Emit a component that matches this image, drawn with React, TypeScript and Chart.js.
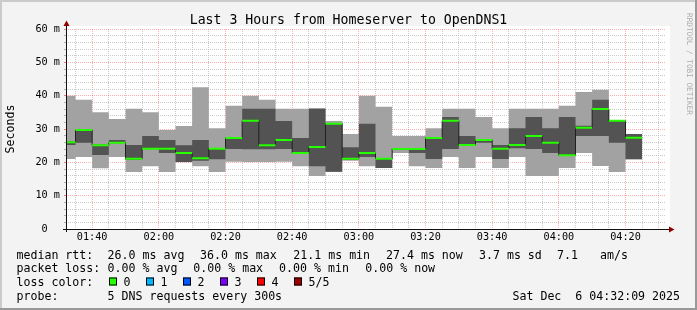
import React, { useEffect, useRef } from 'react';
import { Chart, registerables } from 'chart.js';

Chart.register(...registerables);

const TITLE = 'Last 3 Hours from Homeserver to OpenDNS1';
const Y_AXIS_TITLE = 'Seconds';
const WATERMARK = 'RRDTOOL / TOBI OETIKER';

const X_START = '01:32:09';
const X_END = '04:32:09';
const STEP_MINUTES = 5;

const BAR_END_TIMES = [
  '01:35', '01:40', '01:45', '01:50', '01:55', '02:00', '02:05', '02:10', '02:15', '02:20',
  '02:25', '02:30', '02:35', '02:40', '02:45', '02:50', '02:55', '03:00', '03:05', '03:10',
  '03:15', '03:20', '03:25', '03:30', '03:35', '03:40', '03:45', '03:50', '03:55', '04:00',
  '04:05', '04:10', '04:15', '04:20', '04:25',
];

// smoke: five pings sorted (ms)
const PING_MIN = [
  21.0, 21.6, 18.2, 21.6, 17.1, 18.8, 17.1, 20.0, 18.8, 17.1,
  20.2, 20.1, 20.1, 20.2, 18.8, 15.9, 17.1, 20.5, 18.8, 18.3,
  22.8, 18.8, 18.3, 21.6, 18.3, 21.6, 18.3, 21.6, 15.9, 15.9,
  18.3, 22.8, 18.9, 17.1, 20.9,
];
const PING_LOW = [
  25.2, 25.9, 22.2, 25.8, 20.8, 24.0, 22.8, 20.1, 20.5, 20.9,
  24.0, 23.9, 23.9, 24.0, 22.7, 18.8, 17.2, 20.8, 21.6, 18.3,
  23.8, 22.8, 21.0, 24.0, 25.1, 25.9, 21.0, 24.2, 24.0, 22.8,
  22.1, 27.9, 27.9, 25.9, 20.9,
];
const MEDIAN = [
  26.0, 29.7, 25.1, 25.9, 21.1, 24.1, 24.1, 22.8, 21.2, 24.1,
  27.3, 32.5, 25.1, 26.7, 22.8, 24.6, 31.6, 21.1, 22.8, 21.1,
  24.0, 24.0, 27.3, 32.5, 25.2, 26.7, 24.1, 25.2, 27.9, 25.9,
  22.1, 30.4, 36.0, 32.5, 27.4,
];
const PING_HIGH = [
  26.3, 29.8, 25.3, 26.7, 25.2, 27.9, 26.7, 25.1, 26.7, 24.2,
  27.4, 36.1, 36.1, 32.4, 27.3, 36.1, 31.7, 24.5, 31.6, 21.2,
  24.2, 24.1, 27.4, 33.6, 27.9, 26.8, 25.2, 30.2, 33.6, 30.2,
  33.6, 31.0, 38.8, 32.5, 28.5,
];
const PING_MAX = [
  40.0, 38.8, 35.0, 33.0, 36.1, 35.0, 29.7, 30.9, 42.5, 30.2,
  37.0, 40.0, 38.8, 36.1, 36.1, 36.2, 32.4, 28.5, 40.0, 36.7,
  27.9, 27.9, 30.2, 36.1, 36.1, 33.6, 30.2, 36.1, 36.1, 36.1,
  37.0, 41.1, 41.8, 32.5, 28.5,
];

const X_TICK_LABELS = ['01:40', '02:00', '02:20', '02:40', '03:00', '03:20', '03:40', '04:00', '04:20'];
const Y_MIN = 0;
const Y_MAX = 60;
const Y_MINOR_STEP = 2;
const Y_MAJOR_STEP = 10;
const Y_UNIT = ' m';

const MEDIAN_LABEL = 'median rtt:';
const MEDIAN_STATS = ['26.0 ms avg', '36.0 ms max', '21.1 ms min', '27.4 ms now', '3.7 ms sd', '7.1', 'am/s'];
const LOSS_LABEL = 'packet loss:';
const LOSS_STATS = ['0.00 % avg', '0.00 % max', '0.00 % min', '0.00 % now'];
const LOSS_COLOR_LABEL = 'loss color:';
const LOSS_LEVELS = ['0', '1', '2', '3', '4', '5/5'];
const LOSS_COLORS = ['#26ff00', '#00b8ff', '#0059ff', '#7e00ff', '#ff0000', '#a00000'];
const PROBE_LABEL = 'probe:';
const PROBE_TEXT = '5 DNS requests every 300s';
const DATE_TEXT = 'Sat Dec  6 04:32:09 2025';

const MONO = '"DejaVu Sans Mono", "Liberation Mono", monospace';
const LIGHT = '#a2a2a2';
const DARK = '#535353';
const GRID_MINOR = 'rgba(185,185,185,0.75)';
const GRID_MAJOR = 'rgba(255,40,40,0.38)';

function toMinutes(t: string): number {
  const p = t.split(':').map(Number);
  return p[0] * 60 + p[1] + (p[2] || 0) / 60;
}
function fmt(v: number): string {
  const h = Math.floor(v / 60);
  const m = Math.round(v - h * 60);
  return String(h).padStart(2, '0') + ':' + String(m).padStart(2, '0');
}

const ends = BAR_END_TIMES.map(toMinutes);
const starts = ends.map((e) => e - STEP_MINUTES);

function stepPoints(vals: number[]) {
  return [{ x: starts[0], y: vals[0] }, ...ends.map((x, i) => ({ x, y: vals[i] }))];
}
function bandPoints(vals: number[]) {
  const pts: { x: number; y: number | null }[] = [];
  vals.forEach((v, i) => {
    pts.push({ x: starts[i], y: v }, { x: ends[i], y: v }, { x: ends[i], y: null });
  });
  return pts;
}

const decor = {
  id: 'decor',
  beforeDraw(chart: any) {
    const { ctx, chartArea: a, width, height } = chart;
    ctx.save();
    ctx.fillStyle = '#f3f3f3';
    ctx.fillRect(0, 0, width, height);
    ctx.fillStyle = '#cbcbcb';
    ctx.fillRect(0, 0, width, 2);
    ctx.fillRect(0, 0, 2, height);
    ctx.fillStyle = '#999999';
    ctx.fillRect(0, height - 2, width, 2);
    ctx.fillRect(width - 2, 0, 2, height);
    ctx.fillStyle = '#ffffff';
    ctx.fillRect(a.left, a.top - 3, a.right - a.left + 4, a.bottom - a.top + 3);
    ctx.restore();
  },
  afterDraw(chart: any) {
    const { ctx, chartArea: a, width } = chart;
    ctx.save();
    // axes
    ctx.strokeStyle = '#111111';
    ctx.lineWidth = 1;
    const ay = Math.round(a.bottom) + 0.5;
    const ax = Math.round(a.left) + 0.5;
    ctx.beginPath();
    ctx.moveTo(a.left - 3, ay);
    ctx.lineTo(a.right + 4, ay);
    ctx.moveTo(ax, a.bottom + 3);
    ctx.lineTo(ax, a.top - 3);
    ctx.stroke();
    ctx.fillStyle = '#900000';
    ctx.beginPath();
    ctx.moveTo(a.right + 3, ay - 3);
    ctx.lineTo(a.right + 8.5, ay);
    ctx.lineTo(a.right + 3, ay + 3);
    ctx.closePath();
    ctx.fill();
    ctx.beginPath();
    ctx.moveTo(ax - 3, a.top - 3);
    ctx.lineTo(ax, a.top - 8.5);
    ctx.lineTo(ax + 3, a.top - 3);
    ctx.closePath();
    ctx.fill();

    // title
    ctx.fillStyle = '#000000';
    ctx.font = '13.2px ' + MONO;
    ctx.textAlign = 'center';
    ctx.textBaseline = 'alphabetic';
    ctx.fillText(TITLE, width / 2, 24);

    // y axis title
    ctx.save();
    ctx.translate(10.5, (a.top + a.bottom) / 2);
    ctx.rotate(-Math.PI / 2);
    ctx.font = '11.6px ' + MONO;
    ctx.textAlign = 'center';
    ctx.textBaseline = 'middle';
    ctx.fillText(Y_AXIS_TITLE, 0, 0);
    ctx.restore();

    // watermark
    ctx.save();
    ctx.translate(689, 13);
    ctx.rotate(Math.PI / 2);
    ctx.font = '7.7px ' + MONO;
    ctx.fillStyle = '#ababab';
    ctx.textAlign = 'left';
    ctx.textBaseline = 'middle';
    ctx.fillText(WATERMARK, 0, 0);
    ctx.restore();

    // legend
    ctx.font = '11.6px ' + MONO;
    ctx.textAlign = 'left';
    ctx.textBaseline = 'alphabetic';
    ctx.fillStyle = '#000000';
    const rows = [258.5, 272, 285.5, 299.5];
    ctx.fillText(MEDIAN_LABEL, 16.5, rows[0]);
    const mx = [107.6, 200, 293.3, 386, 479, 557, 600];
    MEDIAN_STATS.forEach((s, i) => ctx.fillText(s, mx[i], rows[0]));
    ctx.fillText(LOSS_LABEL, 16.5, rows[1]);
    const lx = [107.6, 193.3, 279.1, 365.3];
    LOSS_STATS.forEach((s, i) => ctx.fillText(s, lx[i], rows[1]));
    ctx.fillText(LOSS_COLOR_LABEL, 16.5, rows[2]);
    const bx = [109, 146, 183, 220, 257, 294];
    LOSS_LEVELS.forEach((s, i) => {
      ctx.fillStyle = LOSS_COLORS[i];
      ctx.fillRect(bx[i], rows[2] - 8, 8, 8);
      ctx.strokeStyle = '#000000';
      ctx.strokeRect(bx[i] + 0.5, rows[2] - 7.5, 7, 7);
      ctx.fillStyle = '#000000';
      ctx.fillText(s, bx[i] + 14.5, rows[2]);
    });
    ctx.fillText(PROBE_LABEL, 16.5, rows[3]);
    ctx.fillText(PROBE_TEXT, 107.6, rows[3]);
    ctx.textAlign = 'right';
    ctx.fillText(DATE_TEXT, 680, rows[3]);
    ctx.restore();
  },
};

export default function App() {
  const ref = useRef<HTMLCanvasElement>(null);
  useEffect(() => {
    if (!ref.current) return;
    const xMinor: number[] = [];
    for (let v = Math.ceil(toMinutes(X_START) / STEP_MINUTES) * STEP_MINUTES; v <= toMinutes(X_END); v += STEP_MINUTES) xMinor.push(v);

    const isMajorX = (v: number) => X_TICK_LABELS.includes(fmt(v));
    const isMajorY = (v: number) => v % Y_MAJOR_STEP === 0;

    const chart = new Chart(ref.current, {
      type: 'line',
      data: {
        datasets: [
          {
            data: stepPoints(PING_MAX), stepped: 'after', fill: '+1', backgroundColor: LIGHT,
            borderColor: 'transparent', borderWidth: 0, pointRadius: 0, clip: 0, order: 5,
          },
          {
            data: stepPoints(PING_MIN), stepped: 'after', fill: false,
            borderColor: 'transparent', borderWidth: 0, pointRadius: 0, clip: 0, order: 5,
          },
          {
            data: stepPoints(PING_HIGH), stepped: 'after', fill: '+1', backgroundColor: DARK,
            borderColor: 'transparent', borderWidth: 0, pointRadius: 0, clip: 0, order: 4,
          },
          {
            data: stepPoints(PING_LOW), stepped: 'after', fill: false,
            borderColor: 'transparent', borderWidth: 0, pointRadius: 0, clip: 0, order: 4,
          },
          {
            data: stepPoints(MEDIAN), stepped: 'after', fill: false,
            borderColor: '#202020', borderWidth: 1, pointRadius: 0, clip: 0, order: 2,
          },
          {
            data: bandPoints(MEDIAN), fill: false, spanGaps: false,
            borderColor: LOSS_COLORS[0], borderWidth: 2, borderCapStyle: 'butt',
            pointRadius: 0, clip: 0, order: 1,
          },
        ] as any,
      },
      options: {
        animation: false,
        responsive: false,
        devicePixelRatio: 1,
        events: [],
        layout: { padding: { left: 0, top: 29, right: 31, bottom: 0 } },
        plugins: { legend: { display: false }, tooltip: { enabled: false }, title: { display: false } },
        scales: {
          x: {
            type: 'linear',
            min: toMinutes(X_START),
            max: toMinutes(X_END),
            z: 1,
            afterBuildTicks: (s: any) => { s.ticks = xMinor.map((value) => ({ value })); },
            afterFit: (s: any) => { s.height = 81; },
            border: { display: false, dash: [1, 1] },
            grid: {
              color: (c: any) => (isMajorX(c.tick.value) ? GRID_MAJOR : GRID_MINOR),
              drawTicks: false,
              lineWidth: 1,
            },
            ticks: {
              autoSkip: false, maxRotation: 0, minRotation: 0, padding: 2, color: '#000000',
              font: { family: MONO, size: 10.2 },
              callback: (v: any) => (isMajorX(Number(v)) ? fmt(Number(v)) : ''),
            },
          },
          y: {
            type: 'linear',
            min: Y_MIN,
            max: Y_MAX,
            z: 1,
            afterFit: (s: any) => { s.width = 66; },
            border: { display: false, dash: [1, 1] },
            grid: {
              color: (c: any) => (isMajorY(c.tick.value) ? GRID_MAJOR : GRID_MINOR),
              tickLength: 2,
              tickColor: (c: any) => (isMajorY(c.tick.value) ? 'rgba(255,40,40,0.6)' : '#b0b0b0'),
              lineWidth: 1,
            },
            ticks: {
              stepSize: Y_MINOR_STEP, autoSkip: false, padding: 4, color: '#000000',
              font: { family: MONO, size: 10.2 },
              callback: (v: any) => {
                const n = Number(v);
                if (!isMajorY(n)) return '';
                return n === 0 ? '0  ' : n + Y_UNIT;
              },
            },
          },
        },
      } as any,
      plugins: [decor],
    });
    return () => chart.destroy();
  }, []);

  return (
    <div style={{ position: 'fixed', left: 0, top: 0, width: 697, height: 310 }}>
      <canvas ref={ref} width={697} height={310} style={{ display: 'block', width: 697, height: 310 }} />
    </div>
  );
}
